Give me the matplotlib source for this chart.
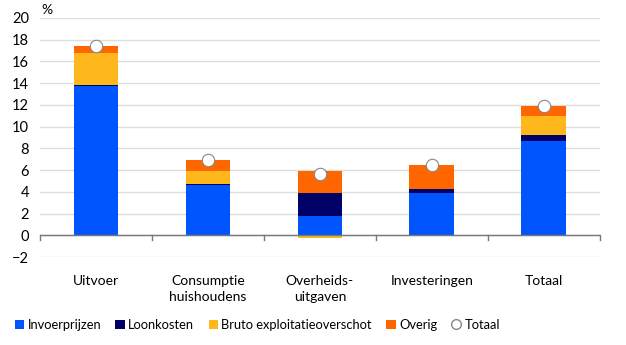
import matplotlib
matplotlib.use("Agg")
import matplotlib.pyplot as plt
import numpy as np
from matplotlib.lines import Line2D
from matplotlib.patches import Patch

plt.rcParams['font.family'] = ['Lato', 'DejaVu Sans']

categories = ["Uitvoer", "Consumptie\nhuishoudens", "Overheids-\nuitgaven", "Investeringen", "Totaal"]
invoerprijzen = [13.7, 4.65, 1.75, 3.9, 8.7]
loonkosten = [0.1, 0.05, 2.18, 0.34, 0.49]
bruto = [3.0, 1.2, -0.25, 0.0, 1.8]
overig = [0.6, 1.0, 1.94, 2.24, 0.92]
totaal = [17.4, 6.9, 5.62, 6.48, 11.92]

series = [("Invoerprijzen", invoerprijzen, "#0055FF"),
          ("Loonkosten", loonkosten, "#000066"),
          ("Bruto exploitatieoverschot", bruto, "#FFB81C"),
          ("Overig", overig, "#FF6600")]

fig = plt.figure(figsize=(6.26, 3.45), dpi=100)
ax = fig.add_axes([0.064, 0.255, 0.894, 0.693])

x = np.arange(len(categories))
pos_b = np.zeros(len(categories))
neg_b = np.zeros(len(categories))
for name, vals, col in series:
    v = np.array(vals, dtype=float)
    b = np.where(v >= 0, pos_b, neg_b)
    ax.bar(x, v, width=0.4, bottom=b, color=col, zorder=3, linewidth=0)
    pos_b += np.where(v >= 0, v, 0)
    neg_b += np.where(v < 0, v, 0)

ax.scatter(x, totaal, s=80, facecolor="white", edgecolor="#888888", linewidth=0.8, zorder=5)

ax.set_xlim(-0.5, len(categories) - 0.5)
ax.set_ylim(-2, 20)
ax.set_yticks(np.arange(-2, 21, 2))
ax.grid(axis="y", color="#DDDDDD", linewidth=1, zorder=0)
ax.set_axisbelow(True)
for s in ax.spines.values():
    s.set_visible(False)
ax.axhline(0, color="#777777", linewidth=1, zorder=4)
ax.tick_params(axis="y", length=0, labelsize=10.5, pad=8)
ax.tick_params(axis="x", length=0, labelsize=10, pad=13)
ax.set_xticks(x)
ax.set_xticklabels(categories, linespacing=1.4)
for b in np.arange(-0.5, len(categories), 1.0):
    ax.plot([b, b], [0, -0.45], color="#777777", linewidth=1, zorder=4, clip_on=False)

fig.text(0.066, 0.955, "%", fontsize=10, ha="left", va="bottom")

handles = [Patch(facecolor=c, edgecolor="none", label=n) for n, _, c in series]
handles.append(Line2D([], [], marker="o", linestyle="none", markerfacecolor="white",
                      markeredgecolor="#888888", markersize=7, label="Totaal"))
fig.legend(handles=handles, loc="center", bbox_to_anchor=(0.411, 0.058), ncol=5,
           frameon=False, fontsize=9.3, handlelength=0.75, handleheight=0.75,
           handletextpad=0.25, columnspacing=1.1)

fig.savefig("out.png", dpi=100)
